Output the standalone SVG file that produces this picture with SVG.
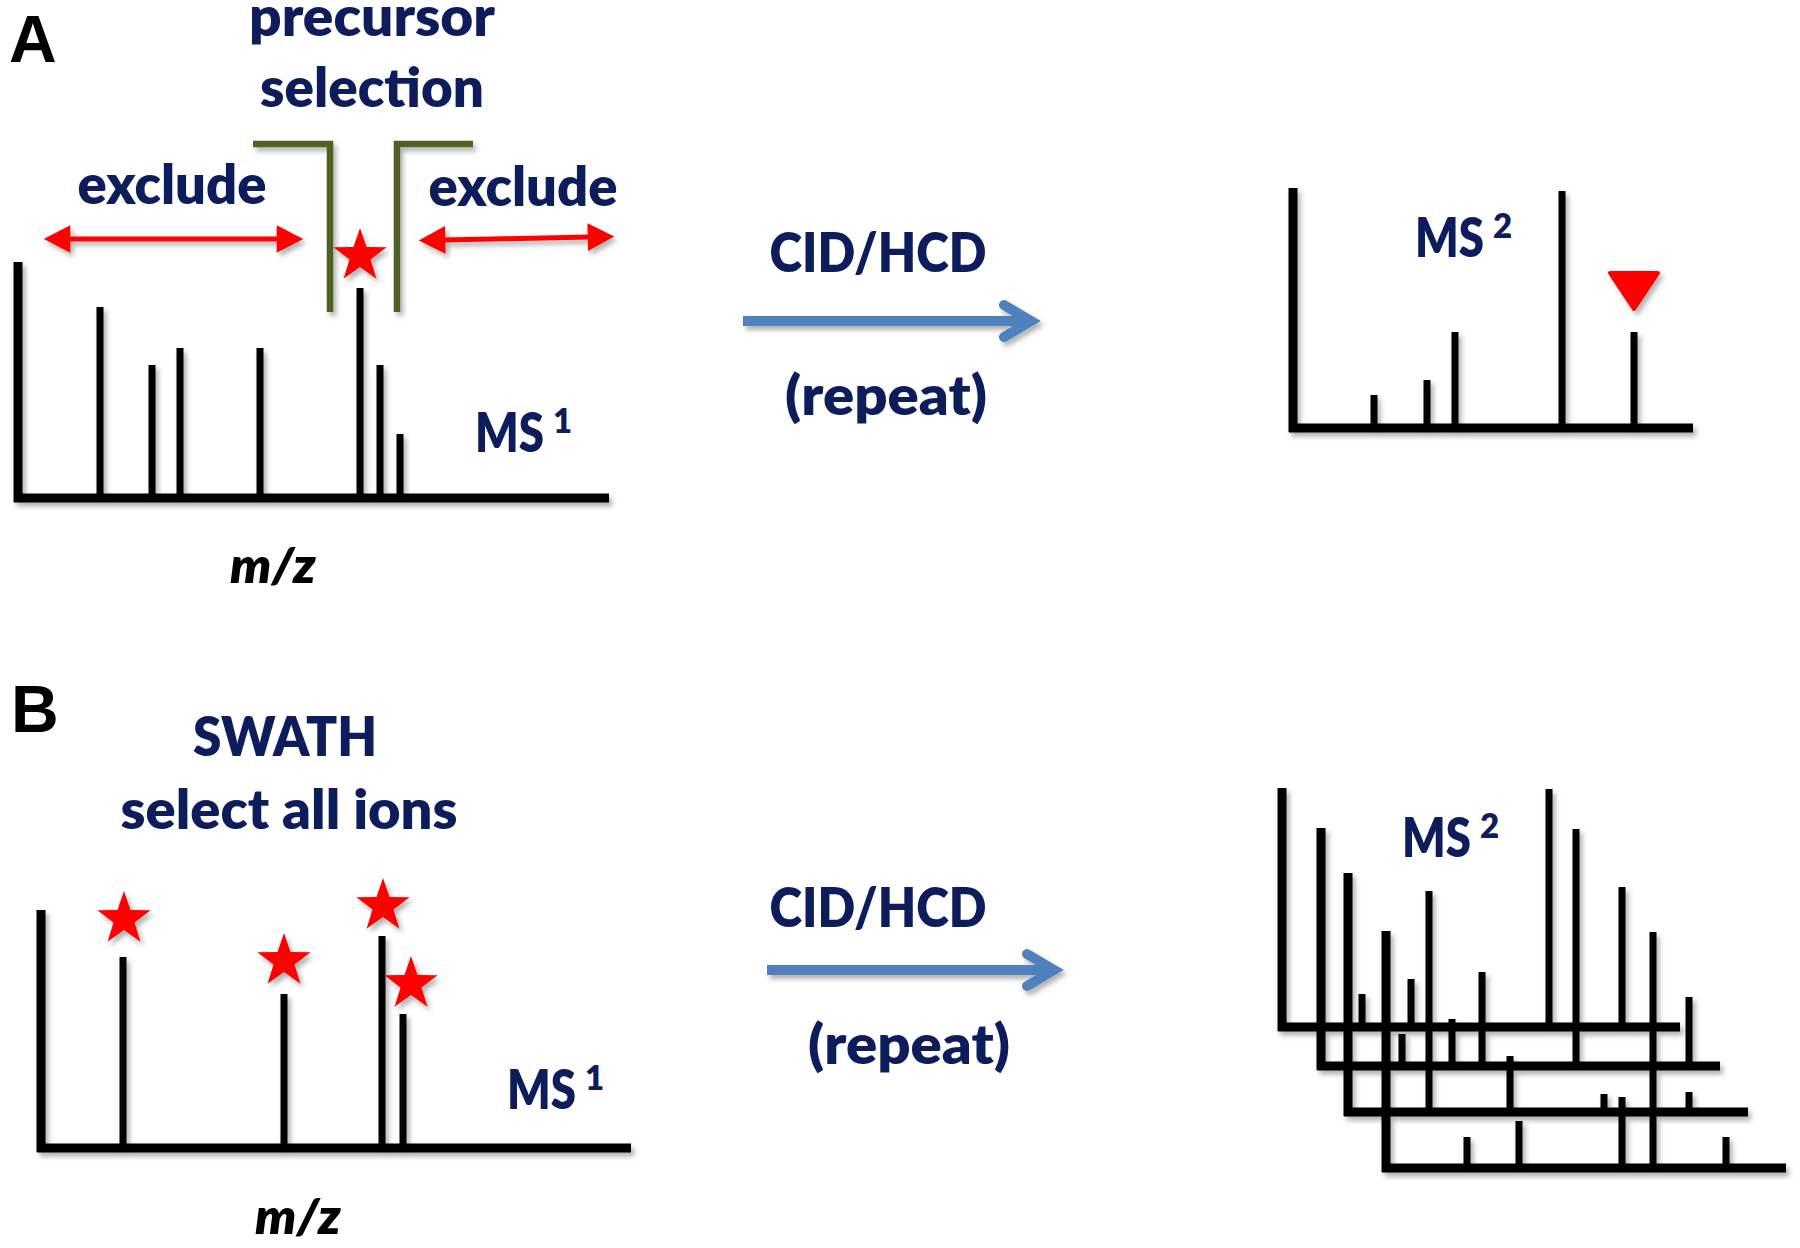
<svg xmlns="http://www.w3.org/2000/svg" width="1800" height="1248" viewBox="0 0 1800 1248">
<style>
.t{font-family:Lato,"Open Sans","Liberation Sans",sans-serif;font-weight:800;fill:#0d1d5c;font-size:54px;text-anchor:middle}
.l{text-anchor:start}
.sup{font-size:33px}
.it{font-style:italic;fill:#000;font-size:50px}
.pl{font-family:"Liberation Sans",Arial,sans-serif;font-weight:bold;font-size:66px;fill:#000}
.ax{stroke:#000;stroke-width:9;fill:none}
.pk{stroke:#000;stroke-width:7;fill:none}
.br{stroke:#4f6228;stroke-width:6.5;fill:none}
.ra{stroke:#ff0000;stroke-width:5;fill:none;marker-start:url(#rh);marker-end:url(#rh)}
.ba{stroke:#4f81bd;stroke-width:10;fill:none}
.bh{stroke:#4f81bd;stroke-width:10;fill:none;stroke-linecap:round;stroke-linejoin:miter;stroke-miterlimit:10}
.st{fill:#ff0000}
</style>
<defs>
<filter id="sh" filterUnits="userSpaceOnUse" x="0" y="0" width="1800" height="1248">
<feDropShadow dx="3" dy="4" stdDeviation="2.5" flood-color="#000" flood-opacity="0.3"/>
</filter>
<marker id="rh" markerUnits="userSpaceOnUse" markerWidth="30" markerHeight="30" viewBox="0 -13 24 26" refX="2" refY="0" orient="auto-start-reverse">
<path d="M0,-12 L23,0 L0,12 Z" fill="#ff0000"/>
</marker>
<path id="star" d="M0,-28 L6.47,-8.9 L26.63,-8.65 L10.46,3.4 L16.46,22.65 L0,11 L-16.46,22.65 L-10.46,3.4 L-26.63,-8.65 L-6.47,-8.9 Z"/>
</defs>
<rect width="1800" height="1248" fill="#fff"/>

<g id="panelA-label"><text class="pl" x="9" y="62">A</text></g>
<g id="panelB-label"><text class="pl" x="11" y="732">B</text></g>

<g id="precursor-selection">
<text class="t" x="372" y="36" textLength="246" lengthAdjust="spacingAndGlyphs">precursor</text>
<text class="t" x="372" y="107" textLength="224" lengthAdjust="spacingAndGlyphs">selection</text>
<g filter="url(#sh)">
<path class="br" d="M253,144 H330 V312"/>
<path class="br" d="M397,312 V144 H473"/>
</g>
</g>

<g id="exclude-left">
<text class="t" x="172" y="204" textLength="189" lengthAdjust="spacingAndGlyphs">exclude</text>
<path class="ra" d="M68,239 H279" filter="url(#sh)"/>
</g>
<g id="exclude-right">
<text class="t" x="523" y="206" textLength="189" lengthAdjust="spacingAndGlyphs">exclude</text>
<path class="ra" d="M443,240 L590,237" filter="url(#sh)"/>
</g>

<g id="ms1-A">
<g filter="url(#sh)">
<path class="ax" d="M18,262 V502 M14,498 H609"/>
<path class="pk" d="M100,307 V498 M152,365 V498 M180,348 V498 M260,348 V498 M360,288 V498 M380,365 V498 M400,434 V498"/>
<use href="#star" class="st" transform="translate(360,256)"/>
</g>
<text class="t l" x="475" y="452"><tspan textLength="69" lengthAdjust="spacingAndGlyphs">MS</tspan><tspan class="sup" x="553" y="433">1</tspan></text>
<text class="t it" x="273" y="583" textLength="86" lengthAdjust="spacingAndGlyphs">m/z</text>
</g>

<g id="ms2-A">
<g filter="url(#sh)">
<path class="ax" d="M1293,188 V432 M1289,428 H1693"/>
<path class="pk" d="M1374,395 V428 M1427,380 V428 M1455,332 V428 M1562,191 V428 M1634,332 V428"/>
<path d="M1610,273 L1658,273 L1634,309 Z" fill="#ff0000" stroke="#ff0000" stroke-width="4" stroke-linejoin="round"/>
</g>
<text class="t l" x="1415" y="257"><tspan textLength="69" lengthAdjust="spacingAndGlyphs">MS</tspan><tspan class="sup" x="1493" y="238">2</tspan></text>
</g>

<g id="swath-label">
<text class="t" x="285" y="756" textLength="184" lengthAdjust="spacingAndGlyphs">SWATH</text>
<text class="t" x="289" y="829" textLength="337" lengthAdjust="spacingAndGlyphs">select all ions</text>
</g>

<g id="ms1-B">
<g filter="url(#sh)">
<path class="ax" d="M41,910 V1152 M37,1148 H631"/>
<path class="pk" d="M123,957 V1148 M284,994 V1148 M382,936 V1148 M403,1014 V1148"/>
<use href="#star" class="st" transform="translate(124,919)"/>
<use href="#star" class="st" transform="translate(284,961)"/>
<use href="#star" class="st" transform="translate(383,906)"/>
<use href="#star" class="st" transform="translate(411,984)"/>
</g>
<text class="t l" x="507" y="1109"><tspan textLength="69" lengthAdjust="spacingAndGlyphs">MS</tspan><tspan class="sup" x="585" y="1090">1</tspan></text>
<text class="t it" x="298" y="1234" textLength="86" lengthAdjust="spacingAndGlyphs">m/z</text>
</g>

<g id="ms2-B">
<g filter="url(#sh)">
<path class="ax" d="M1282,788 V1031 M1278,1027 H1680"/>
<path class="pk" d="M1362,994 V1027 M1411,979 V1027 M1549,789 V1027 M1622,887 V1027"/>
<path class="ax" d="M1321,828 V1070 M1317,1066 H1720"/>
<path class="pk" d="M1402,1034 V1066 M1452,1019 V1066 M1482,972 V1066 M1576,829 V1066 M1689,997 V1066"/>
<path class="ax" d="M1348,873 V1116 M1344,1112 H1748"/>
<path class="pk" d="M1429,891 V1112 M1510,1056 V1112 M1604,1094 V1112 M1689,1092 V1112"/>
<path class="ax" d="M1386,931 V1172 M1382,1168 H1786"/>
<path class="pk" d="M1467,1137 V1168 M1519,1121 V1168 M1622,1097 V1168 M1653,932 V1168 M1726,1137 V1168"/>
</g>
<text class="t l" x="1402" y="857"><tspan textLength="69" lengthAdjust="spacingAndGlyphs">MS</tspan><tspan class="sup" x="1480" y="838">2</tspan></text>
</g>

<g id="connectors">
<g id="arrow-A" filter="url(#sh)">
<path class="ba" d="M743,321 H1026"/>
<path class="bh" d="M1004,305 L1031,321 L1004,337"/>
</g>
<g id="arrow-B" filter="url(#sh)">
<path class="ba" d="M767,970 H1049"/>
<path class="bh" d="M1027,954 L1054,970 L1027,986"/>
</g>
<text class="t" x="878" y="272" textLength="217" lengthAdjust="spacingAndGlyphs">CID/HCD</text>
<text class="t" x="886" y="415" textLength="202" lengthAdjust="spacingAndGlyphs">(repeat)</text>
<text class="t" x="878" y="927" textLength="217" lengthAdjust="spacingAndGlyphs">CID/HCD</text>
<text class="t" x="909" y="1064" textLength="202" lengthAdjust="spacingAndGlyphs">(repeat)</text>
</g>
</svg>
